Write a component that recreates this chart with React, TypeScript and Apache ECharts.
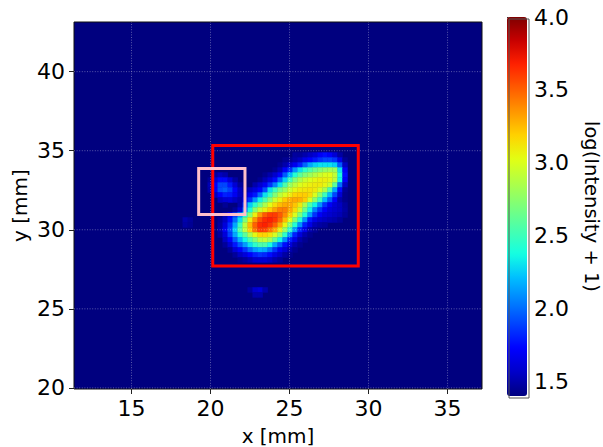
import React, { useEffect, useRef } from "react";
import * as echarts from "echarts";

const FONT = "DejaVu Sans";

const xTicks = [15, 20, 25, 30, 35];
const yTicks = [20, 25, 30, 35, 40];
const barTicks = [1.5, 2.0, 2.5, 3.0, 3.5, 4.0];
const cellStep = 0.316;
const firstCellX = 19.652;
const firstCellY = 34.74;

// [row, first column, ...log(Intensity + 1) values]
const intensityRows: number[][] = [
  [0, 18, 1.47, 1.46],
  [0, 20, 1.5, 1.55, 1.6, 1.7, 1.75, 1.7, 1.6, 1.48],
  [1, 16, 1.44, 1.45, 1.5, 1.55, 1.65, 1.72, 1.78, 1.85, 1.9, 1.9, 1.85, 1.65, 1.45],
  [2, 15, 1.44, 1.5, 1.58, 1.68, 1.8, 1.98, 2.15, 2.25, 2.3, 2.3, 2.3, 2.25, 1.95, 1.55],
  [3, 14, 1.44, 1.52, 1.7, 1.85, 2.1, 2.3, 2.45, 2.55, 2.65, 2.72, 2.78, 2.82, 2.8, 2.3, 1.7],
  [4, 2, 1.48, 1.54, 1.5],
  [4, 12, 1.44, 1.5, 1.58, 1.7, 1.95, 2.2, 2.42, 2.6, 2.72, 2.8, 2.88, 2.95, 3.0, 3.02, 2.92, 2.4, 1.75],
  [5, 1, 1.46, 1.6, 1.74, 1.74, 1.6, 1.48],
  [5, 11, 1.44, 1.52, 1.62, 1.75, 1.98, 2.25, 2.5, 2.72, 2.85, 2.95, 3.0, 3.05, 3.08, 3.08, 3.05, 2.9, 2.35, 1.7],
  [6, 1, 1.52, 1.72, 1.9, 1.9, 1.78, 1.6, 1.47],
  [6, 10, 1.5, 1.58, 1.68, 1.85, 2.05, 2.3, 2.55, 2.78, 2.9, 3.0, 3.05, 3.08, 3.1, 3.1, 3.05, 2.95, 2.6, 2.0, 1.55],
  [7, 1, 1.5, 1.7, 1.92, 1.96, 1.88, 1.72, 1.55],
  [7, 8, 1.45, 1.55, 1.62, 1.72, 1.92, 2.3, 2.5, 2.68, 2.8, 2.95, 3.05, 3.1, 3.12, 3.13, 3.1, 3.0, 2.85, 2.55, 2.15, 1.75, 1.45],
  [8, 2, 1.55, 1.72, 1.8, 1.78, 1.68, 1.55],
  [8, 8, 1.52, 1.68, 1.78, 2.0, 2.3, 2.5, 2.72, 2.9, 3.0, 3.1, 3.18, 3.2, 3.2, 3.15, 3.0, 2.75, 2.5, 2.2, 1.9, 1.6, 1.43],
  [9, 3, 1.55, 1.6, 1.62, 1.55, 1.5],
  [9, 8, 1.65, 1.85, 2.1, 2.35, 2.55, 2.75, 2.95, 3.08, 3.2, 3.28, 3.3, 3.28, 3.2, 3.0, 2.75, 2.5, 2.2, 1.95, 1.72, 1.5, 1.43],
  [10, 4, 1.45],
  [10, 7, 1.5, 1.85, 2.25, 2.45, 2.65, 2.85, 3.03, 3.15, 3.25, 3.3, 3.3, 3.22, 3.1, 2.85, 2.55, 2.35, 2.1, 1.85, 1.7, 1.6, 1.55, 1.47],
  [11, 6, 1.46, 1.6, 2.0, 2.4, 2.75, 2.95, 3.08, 3.2, 3.32, 3.42, 3.42, 3.3, 3.15, 2.95, 2.65, 2.35, 2.05, 1.85, 1.72, 1.62, 1.58, 1.55, 1.48],
  [12, 4, 1.52, 1.7, 1.88, 2.12, 2.42, 2.75, 3.08, 3.35, 3.52, 3.6, 3.6, 3.52, 3.38, 3.2, 3.0, 2.7, 2.42, 2.12, 1.85, 1.7, 1.62, 1.58, 1.55, 1.52, 1.46],
  [13, -4, 1.5, 1.46],
  [13, 3, 1.46, 1.55, 1.75, 2.0, 2.3, 2.7, 3.08, 3.35, 3.55, 3.65, 3.68, 3.62, 3.48, 3.25, 3.02, 2.72, 2.42, 2.1, 1.78, 1.65, 1.58, 1.55, 1.52, 1.5, 1.46],
  [14, -4, 1.48, 1.45],
  [14, 3, 1.48, 1.62, 1.85, 2.15, 2.5, 2.9, 3.25, 3.5, 3.65, 3.68, 3.62, 3.5, 3.3, 3.05, 2.72, 2.42, 2.1, 1.8, 1.65, 1.52, 1.48, 1.46],
  [15, 3, 1.5, 1.68, 1.92, 2.25, 2.58, 2.9, 3.2, 3.45, 3.6, 3.58, 3.45, 3.3, 3.08, 2.78, 2.45, 2.12, 1.82, 1.65, 1.5, 1.45],
  [16, 3, 1.47, 1.62, 1.88, 2.15, 2.4, 2.6, 2.85, 3.05, 3.18, 3.18, 3.12, 2.98, 2.75, 2.45, 2.1, 1.8, 1.62, 1.5, 1.44],
  [17, 4, 1.55, 1.72, 1.95, 2.18, 2.36, 2.55, 2.72, 2.88, 2.92, 2.82, 2.62, 2.36, 2.08, 1.8, 1.65, 1.5, 1.44],
  [18, 4, 1.46, 1.58, 1.78, 1.95, 2.12, 2.3, 2.45, 2.55, 2.55, 2.38, 2.15, 1.95, 1.75, 1.62, 1.5, 1.44],
  [19, 5, 1.46, 1.6, 1.72, 1.85, 2.0, 2.12, 2.18, 2.15, 2.02, 1.85, 1.7, 1.6, 1.5, 1.44],
  [20, 6, 1.46, 1.55, 1.62, 1.72, 1.8, 1.85, 1.82, 1.75, 1.64, 1.56, 1.48, 1.44],
  [21, 7, 1.44, 1.47, 1.52, 1.58, 1.6, 1.6, 1.56, 1.5, 1.46],
  [27, 9, 1.47, 1.58, 1.62, 1.5],
  [28, 10, 1.5, 1.5],
];

// [x0, x1, y0, y1] in mm
const redBox = [20.14, 29.35, 27.71, 35.33];
const pinkBox = [19.25, 22.18, 30.97, 33.87];

const jetColors = [
  "#00007f", "#0000c8", "#0000ff", "#0040ff", "#0080ff", "#00bfff", "#14ffe2", "#47ffaf", "#7bff7b",
  "#afff47", "#e2ff14", "#ffd200", "#ff9700", "#ff5c00", "#ff2100", "#c80000", "#7f0000",
];

const cells: number[][] = [];
intensityRows.forEach(([row, col, ...values]) => {
  values.forEach((v, i) => {
    cells.push([firstCellX + (col + i) * cellStep, firstCellY - row * cellStep, v]);
  });
});

const tickLabel = { fontFamily: FONT, fontSize: 22, color: "#000" };
const tickLine = { show: true, length: 5, lineStyle: { color: "#222", width: 1 } };
const nameStyle = { fontFamily: FONT, fontSize: 20, color: "#000" };

export default function App() {
  const ref = useRef<HTMLDivElement>(null);
  useEffect(() => {
    const chart = echarts.init(ref.current!, undefined, { renderer: "svg" });
    chart.setOption({
      animation: false,
      backgroundColor: "#fff",
      grid: [
        { left: 74, top: 22, width: 408, height: 367, show: true, backgroundColor: "#00007f", borderColor: "#111", borderWidth: 1, outerBoundsMode: "none" },
        { left: 507, top: 17, width: 20, height: 379, outerBoundsMode: "none" },
      ],
      xAxis: [
        {
          type: "value", gridIndex: 0, min: 11.36, max: 37.18, splitLine: { show: false },
          axisLine: { show: false },
          axisTick: { ...tickLine, customValues: xTicks },
          axisLabel: { ...tickLabel, margin: 8, customValues: xTicks, formatter: (v: number) => String(v) },
          name: "x [mm]", nameLocation: "middle", nameGap: 37, nameMoveOverlap: false, nameTextStyle: nameStyle,
        },
        { type: "value", gridIndex: 1, min: 0, max: 1, show: false },
      ],
      yAxis: [
        {
          type: "value", gridIndex: 0, min: 19.93, max: 43.14, splitLine: { show: false },
          axisLine: { show: false },
          axisTick: { ...tickLine, customValues: yTicks },
          axisLabel: { ...tickLabel, margin: 9, customValues: yTicks, formatter: (v: number) => String(v) },
          name: "y [mm]", nameLocation: "middle", nameGap: 44, nameMoveOverlap: false, nameRotate: 90, nameTextStyle: nameStyle,
        },
        {
          type: "value", gridIndex: 1, position: "right", min: 1.4, max: 4.0, splitLine: { show: false },
          axisLine: { show: false },
          axisTick: { ...tickLine, customValues: barTicks },
          axisLabel: { ...tickLabel, margin: 7, customValues: barTicks, formatter: (v: number) => v.toFixed(1) },
          name: "log(Intensity + 1)", nameLocation: "middle", nameGap: 54, nameMoveOverlap: false, nameRotate: -90,
          nameTextStyle: { ...nameStyle, fontSize: 19.5 },
        },
      ],
      visualMap: {
        type: "continuous", seriesIndex: 0, dimension: 2, min: 1.4, max: 4.0,
        left: 507, top: 17, itemWidth: 20, itemHeight: 379, padding: 0,
        calculable: false, showLabel: false,
        inRange: { color: jetColors },
      },
      graphic: [
        { type: "rect", left: 506.5, top: 16.5, shape: { width: 20, height: 379 }, style: { fill: "none", stroke: "#555", lineWidth: 1 }, z: 20, silent: true },
      ],
      series: [
        {
          type: "custom", xAxisIndex: 0, yAxisIndex: 0, data: cells, clip: true, silent: true,
          encode: { x: 0, y: 1 }, z: 1,
          renderItem: (_p: any, api: any) => {
            const x = api.value(0), y = api.value(1);
            const a = api.coord([x - cellStep / 2, y + cellStep / 2]);
            const b = api.coord([x + cellStep / 2, y - cellStep / 2]);
            const fill = api.visual("color");
            return {
              type: "rect",
              shape: { x: a[0], y: a[1], width: b[0] - a[0] + 0.4, height: b[1] - a[1] + 0.4 },
              style: { fill, stroke: "none" },
            };
          },
        },
        {
          type: "custom", xAxisIndex: 0, yAxisIndex: 0, clip: true, silent: true, z: 3,
          data: [...xTicks.map((v) => [0, v]), ...yTicks.map((v) => [1, v])],
          encode: { x: 1, y: 1 },
          renderItem: (_p: any, api: any) => {
            const vertical = api.value(0) === 0;
            const v = api.value(1);
            const a = vertical ? api.coord([v, 19.93]) : api.coord([11.36, v]);
            const b = vertical ? api.coord([v, 43.14]) : api.coord([37.18, v]);
            return {
              type: "line",
              shape: { x1: a[0], y1: a[1], x2: b[0], y2: b[1] },
              style: { stroke: "rgba(255,255,255,0.35)", lineWidth: 1, lineDash: [1, 1.6] },
            };
          },
        },
        {
          type: "custom", xAxisIndex: 0, yAxisIndex: 0, silent: true, z: 4,
          data: [[...redBox, 0], [...pinkBox, 1]],
          encode: { x: 0, y: 2 },
          renderItem: (_p: any, api: any) => {
            const a = api.coord([api.value(0), api.value(3)]);
            const b = api.coord([api.value(1), api.value(2)]);
            return {
              type: "rect",
              shape: { x: a[0], y: a[1], width: b[0] - a[0], height: b[1] - a[1] },
              style: { fill: "none", stroke: api.value(4) === 0 ? "#ff0000" : "#ffc0cb", lineWidth: 3 },
            };
          },
        },
      ],
    });
    return () => chart.dispose();
  }, []);
  return <div ref={ref} style={{ position: "absolute", left: 0, top: 0, width: 603, height: 447 }} />;
}
